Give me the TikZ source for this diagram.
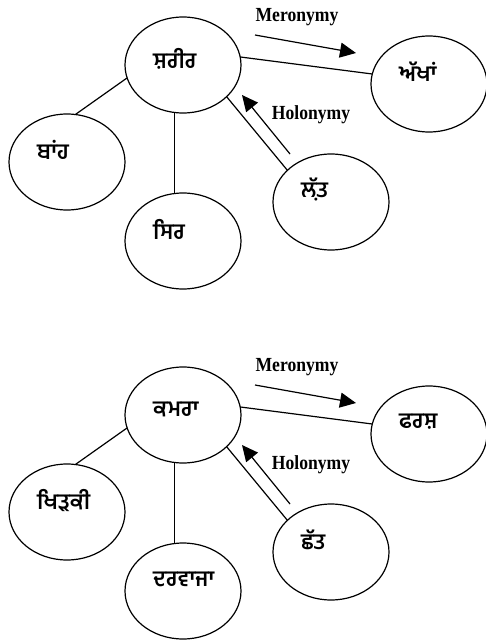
\documentclass[tikz,border=0pt]{standalone}
\usepackage{fontspec}
\setmainfont{Liberation Serif}
\newfontfamily\gurmukhi[Script=Gurmukhi]{Hind Jalandhar}
\newfontfamily\relfont[FakeStretch=0.88]{Liberation Serif}
\usetikzlibrary{shapes.geometric,arrows.meta,positioning}

\tikzset{
  part/.style={draw, ellipse, line width=1.2pt, minimum width=116pt,
    minimum height=96pt, inner sep=0pt, outer sep=0pt},
  word/.style={anchor=west, inner sep=0pt,
    font=\gurmukhi\bfseries\fontsize{22}{24}\selectfont},
  rel/.style={inner sep=0pt, font=\relfont\bfseries\fontsize{20}{22}\selectfont},
  link/.style={line width=1.2pt},
  relarrow/.style={line width=1.2pt, -{Triangle[length=16pt,width=15pt]}}
}

\begin{document}
\begin{tikzpicture}[x=1pt,y=-1pt]
  \useasboundingbox (0,0) rectangle (486,640);

  % body and its parts
  \node[part] (sharir) at (183,65) {};
  \node[part] (akhan) at (429,84) {};
  \node[part] (banh) at (67,162) {};
  \node[part] (sir) at (183,241) {};
  \node[part] (latt) at (331,202) {};

  \node[word] (sharirtxt) at ([xshift=28pt,yshift=6pt]sharir.west) {ਸ਼ਰੀਰ};
  \node[word] (akhantxt) at ([xshift=28pt,yshift=12pt]akhan.west) {ਅੱਖਾਂ};
  \node[word] (banhtxt) at ([xshift=28pt,yshift=12pt]banh.west) {ਬਾਂਹ};
  \node[word] (sirtxt) at ([xshift=28pt,yshift=12pt]sir.west) {ਸਿਰ};
  \node[word] (latttxt) at ([xshift=28pt,yshift=12pt]latt.west) {ਲ਼ੱਤ};

  \draw[link] (sharir.8) -- (akhan.170);
  \draw[link] (sharir.193) -- (banh.80);
  \draw[link] (sharir.260) -- (sir.100);
  \draw[link] (sharir.-36) -- (latt.144);

  \coordinate (meroA) at (255,35);
  \coordinate (meroB) at (356,53);
  \draw[relarrow] (meroA) -- (meroB);
  \node[rel] (merolbl) at (297,17) {Meronymy};
  \coordinate (holoA) at (290,154);
  \coordinate (holoB) at (242,95);
  \draw[relarrow] (holoA) -- (holoB);
  \node[rel] (hololbl) at (311,115) {Holonymy};

  % room and its parts
  \begin{scope}[yshift=-350pt]
    \node[part] (kamra) at (183,65) {};
    \node[part] (farsh) at (429,84) {};
    \node[part] (khirki) at (67,162) {};
    \node[part] (darvaza) at (183,241) {};
    \node[part] (chhatt) at (331,202) {};

    \node[word] (kamratxt) at ([xshift=28pt,yshift=6pt]kamra.west) {ਕਮਰਾ};
    \node[word] (farshtxt) at ([xshift=28pt,yshift=12pt]farsh.west) {ਫਰਸ਼};
    \node[word] (khirkitxt) at ([xshift=28pt,yshift=12pt]khirki.west) {ਖਿੜਕੀ};
    \node[word] (darvazatxt) at ([xshift=28pt,yshift=12pt]darvaza.west) {ਦਰਵਾਜਾ};
    \node[word] (chhatttxt) at ([xshift=28pt,yshift=12pt]chhatt.west) {ਛੱਤ};

    \draw[link] (kamra.8) -- (farsh.170);
    \draw[link] (kamra.193) -- (khirki.80);
    \draw[link] (kamra.260) -- (darvaza.100);
    \draw[link] (kamra.-36) -- (chhatt.144);

    \coordinate (meroC) at (255,35);
    \coordinate (meroD) at (356,53);
    \draw[relarrow] (meroC) -- (meroD);
    \node[rel] (merolblb) at (297,17) {Meronymy};
    \coordinate (holoC) at (290,154);
    \coordinate (holoD) at (242,95);
    \draw[relarrow] (holoC) -- (holoD);
    \node[rel] (hololblb) at (311,115) {Holonymy};
  \end{scope}
\end{tikzpicture}
\end{document}
